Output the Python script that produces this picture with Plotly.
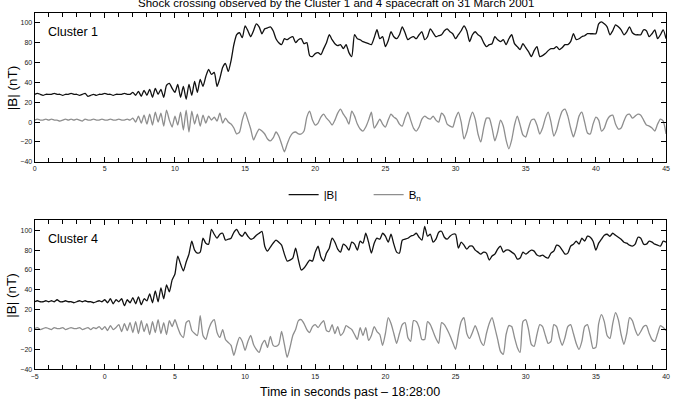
import numpy as np
import plotly.graph_objects as go

# ---------------- data (0.2 s sampling) ----------------
STEP = 0.2
TOP_START = 0.0      # Cluster 1 time axis starts at 0 s
BOT_START = -5.0     # Cluster 4 time axis starts at -5 s

c1_B = [
    28, 29, 28, 27, 28,  28, 28, 29, 28, 28,  27, 28, 28, 29, 28,  28, 27, 28, 29, 26,
    27, 28, 27, 28, 28,  29, 28, 28, 27, 28,  28, 28, 29, 28, 28,  30, 27, 31, 26, 32,
    27, 33, 25, 34, 28,  33, 25, 37, 39, 34,  30, 38, 25, 36, 23,  38, 27, 41, 30, 43,
    36, 46, 53, 48, 50,  36, 44, 55, 59, 51,  62, 78, 88, 90, 85,  97, 92, 86, 92, 99,
    96, 89, 94, 95, 96,  92, 84, 80, 78, 84,  83, 85, 86, 80, 83,  84, 79, 80, 67, 66,
    69, 70, 68, 74, 80,  88, 83, 79, 77, 78,  74, 78, 70, 66, 88,  84, 83, 81, 80, 79,
    78, 85, 93, 84, 86,  76, 82, 91, 86, 84,  88, 96, 90, 83, 85,  86, 84, 88, 91, 83,
    86, 94, 90, 86, 87,  88, 92, 94, 91, 89,  84, 88, 92, 97, 92,  81, 88, 91, 88, 86,
    80, 76, 78, 79, 86,  83, 81, 83, 78, 84,  88, 79, 76, 73, 79,  75, 71, 66, 72, 76,
    66, 67, 69, 72, 74,  74, 76, 73, 75, 78,  78, 81, 89, 83, 84,  86, 87, 89, 89, 89,
    89, 99, 101, 99, 96, 88, 92, 98, 96, 93,  88, 91, 96, 90, 88,  88, 88, 93, 92, 86,
    89, 93, 84, 88, 93,  84,
]

c1_Bn = [
    2, 3, 2, 2, 3,  2, 3, 2, 2, 1,  2, 3, 2, 3, 2,  3, 2, 1, 3, 2,
    2, 3, 2, 2, 3,  2, 2, 3, 2, 2,  3, 2, 2, 3, 2,  4, 0, 6, -1, 7,
    -2, 8, -3, 10, 0,  9, -4, 12, 2, -5,  6, -3, 10, -8, 12,  -10, 11, -2, 8, -4,
    7, -1, 6, 2, 5,  1, 9, -1, 4, 0,  -2, -6, -12, -10, 2,  10, 2, -7, -18, -12,
    -7, -9, -12, -17, -19,  -16, -10, -14, -22, -30,  -22, -15, -11, -10, -12,  -12, -9, 5, 11, 2,
    -3, -1, 5, 8, 4,  1, -3, 2, 9, 13,  8, 4, -2, 11, 6,  -2, -7, -9, -5, 2,
    10, -6, -2, 3, -2,  -5, 2, 8, 5, 3,  -2, -4, 4, 10, 2,  -6, -9, -5, 3, 6,
    4, 3, 6, 2, 0,  9, 6, -2, -4, -5,  4, 10, 0, -17, -10,  2, 10, 3, -12, -20,
    -6, 4, 4, -6, -19,  -10, 2, -4, -18, -27,  -18, -3, 6, -3, -13,  -15, -6, 2, 3, -3,
    -12, -6, 4, 10, 0,  -14, -8, 3, 11, 13,  6, -6, -15, -6, 6,  10, 0, -11, -12, -2,
    5, 2, -9, -6, 2,  6, 7, -2, -7, -6,  1, 7, 8, 4, 6,  8, 7, 2, -3, -4,
    -6, -9, -2, 3, 1,  -12,
]

c4_B = [
    28, 29, 28, 28, 29,  28, 29, 28, 30, 28,  28, 29, 28, 28, 27,  28, 29, 28, 29, 28,
    28, 27, 28, 29, 28,  30, 27, 31, 26, 30,  28, 31, 24, 30, 27,  32, 26, 33, 25, 31,
    29, 36, 27, 39, 28,  42, 31, 45, 38, 50,  56, 74, 66, 59, 68,  76, 89, 80, 77, 78,
    92, 87, 86, 101, 96,  92, 96, 97, 90, 91,  92, 98, 101, 96, 94,  98, 94, 91, 92, 95,
    97, 99, 84, 79, 83,  87, 90, 88, 85, 76,  69, 70, 72, 82, 70,  60, 62, 66, 70, 69,
    78, 84, 73, 69, 77,  82, 92, 88, 81, 78,  86, 84, 80, 88, 86,  80, 89, 87, 97, 88,
    77, 87, 92, 91, 97,  94, 88, 96, 86, 78,  77, 90, 91, 92, 94,  95, 97, 93, 90, 104,
    94, 96, 88, 91, 98,  99, 93, 91, 94, 96,  96, 82, 88, 85, 81,  84, 84, 80, 78, 76,
    78, 77, 70, 74, 76,  81, 84, 78, 80, 80,  78, 76, 71, 72, 78,  76, 78, 80, 79, 75,
    74, 75, 73, 72, 77,  79, 85, 84, 80, 76,  77, 84, 86, 89, 86,  92, 89, 94, 93, 89,
    80, 87, 91, 95, 96,  94, 97, 95, 93, 91,  88, 87, 85, 84, 86,  93, 92, 86, 86, 89,
    88, 86, 85, 84, 89,  88,
]

c4_Bn = [
    1, 2, 0, 1, 2,  1, 0, 2, 1, 1,  2, 0, 1, 2, 1,  1, 2, 0, 1, 2,
    0, 2, 1, 3, 0,  3, -1, 4, 0, 2,  5, -2, 6, -1, 7,  -3, 8, -4, 9, -2,
    6, -5, 8, -3, 10,  -4, 7, -5, 9, 3,  10, 2, -5, -8, 7,  9, -1, -4, -6, 14,
    -6, -10, 0, 7, 10,  -3, -8, 0, -10, -13,  -16, -26, -16, -8, -12,  -21, -12, -6, -15, -20,
    -23, -15, -11, -18, -7,  -16, -17, -15, -2, -15,  -28, -18, -6, 0, 9,  10, 6, 0, -3, 3,
    5, 2, 6, 9, -1,  -2, 5, -4, 3, -6,  -3, 4, 2, 0, -5,  -10, 2, -6, 2, -11,
    -6, 3, -2, -5, -16,  -4, 12, 6, -4, -14,  -4, 5, 7, -8, -12,  9, 8, 2, -10, -10,
    8, 5, -2, -9, -14,  7, 5, 0, -6, -13,  -20, -5, 8, 12, -4,  -9, -3, 4, -3, -12,
    -16, -4, 6, 12, 2,  -10, -22, -25, -5, 4,  3, -8, -18, -23, 8,  10, 0, -15, -17, -5,
    5, 3, -6, -14, -12,  5, 3, -8, -16, -8,  3, 5, -4, -14, -20,  -12, 3, 5, -6, -19,
    -18, 6, 15, 8, -6,  -9, 6, 17, 10, -5,  -15, -4, 12, 9, 0,  -6, -2, 3, 4, -4,
    -10, -12, -4, 4, 2,  -1,
]

X_TICKS_TOP = [0, 5, 10, 15, 20, 25, 30, 35, 40, 45]
X_TICKS_BOT = [-5, 0, 5, 10, 15, 20, 25, 30, 35, 40]
Y_TICKS = [-40, -20, 0, 20, 40, 60, 80, 100]

TITLE = "Shock crossing observed by the Cluster 1 and 4 spacecraft on 31 March 2001"
XTITLE = "Time in seconds past \u2013 18:28:00"
YTITLE = "|B| (nT)"

# ---------------- figure ----------------
W, H = 673, 404
FONT = "Liberation Sans, Arial, Helvetica, sans-serif"
BLACK = "#111111"
GREY = "#8e8e8e"


def px(x):
    return x / W


def py(y):
    return 1 - y / H


t1 = TOP_START + STEP * np.arange(len(c1_B))
t4 = BOT_START + STEP * np.arange(len(c4_B))

line_kw = dict(shape="spline", smoothing=0.6)

fig = go.Figure()
fig.add_trace(go.Scatter(x=t1, y=c1_B, mode="lines", name="|B|",
                         line=dict(color=BLACK, width=1.3, **line_kw),
                         xaxis="x", yaxis="y", legendrank=1))
fig.add_trace(go.Scatter(x=t1, y=c1_Bn, mode="lines", name="B<sub>n</sub>",
                         line=dict(color=GREY, width=1.3, **line_kw),
                         xaxis="x", yaxis="y", legendrank=2))
fig.add_trace(go.Scatter(x=t4, y=c4_B, mode="lines", name="|B|", showlegend=False,
                         line=dict(color=BLACK, width=1.3, **line_kw),
                         xaxis="x2", yaxis="y2"))
fig.add_trace(go.Scatter(x=t4, y=c4_Bn, mode="lines", name="B<sub>n</sub>", showlegend=False,
                         line=dict(color=GREY, width=1.3, **line_kw),
                         xaxis="x2", yaxis="y2"))

axis_common = dict(
    showline=True, linecolor="black", linewidth=1, mirror="ticks",
    ticks="inside", ticklen=5, tickwidth=1, tickcolor="black",
    tickfont=dict(size=7, color="#222222", family=FONT),
    ticklabeloverflow="allow",
    showgrid=False, zeroline=False,
)
minor_x = dict(dtick=1, ticks="inside", ticklen=4, tickwidth=1, tickcolor="black", showgrid=False)

xdom = [px(31), px(670)]
fig.update_layout(
    width=W, height=H,
    margin=dict(l=0, r=0, t=0, b=0),
    paper_bgcolor="white", plot_bgcolor="white",
    font=dict(family=FONT, color="black"),
    showlegend=True,
    legend=dict(orientation="h", x=px(283), xanchor="left", y=py(196), yanchor="middle",
                font=dict(size=11.5, family=FONT, color="black"), bgcolor="rgba(0,0,0,0)",
                itemwidth=30, entrywidth=40, entrywidthmode="pixels"),
    xaxis=dict(domain=xdom, anchor="y", range=[X_TICKS_TOP[0], X_TICKS_TOP[-1]],
               tickvals=X_TICKS_TOP, minor=minor_x, **axis_common),
    yaxis=dict(domain=[py(163), py(13)], anchor="x", range=[-40, 110],
               tickvals=Y_TICKS, **axis_common),
    xaxis2=dict(domain=xdom, anchor="y2", range=[X_TICKS_BOT[0], X_TICKS_BOT[-1]],
                tickvals=X_TICKS_BOT, minor=minor_x, **axis_common),
    yaxis2=dict(domain=[py(372), py(222)], anchor="x2", range=[-40, 110],
                tickvals=Y_TICKS, **axis_common),
)

ann = []
ann.append(dict(text=TITLE, x=px(336), y=py(3), xref="paper", yref="paper",
                xanchor="center", yanchor="middle", showarrow=False,
                font=dict(size=11.5, family=FONT, color="black")))
for yc in (88, 297):
    ann.append(dict(text=YTITLE, x=px(8), y=py(yc), xref="paper", yref="paper",
                    xanchor="center", yanchor="middle", textangle=-90, showarrow=False,
                    font=dict(size=13.5, family=FONT, color="black")))
ann.append(dict(text="Cluster 1", x=px(42), y=py(32), xref="paper", yref="paper",
                xanchor="left", yanchor="middle", showarrow=False,
                font=dict(size=12.5, family=FONT, color="black")))
ann.append(dict(text="Cluster 4", x=px(42), y=py(241), xref="paper", yref="paper",
                xanchor="left", yanchor="middle", showarrow=False,
                font=dict(size=12.5, family=FONT, color="black")))
ann.append(dict(text=XTITLE, x=px(350), y=py(395), xref="paper", yref="paper",
                xanchor="center", yanchor="middle", showarrow=False,
                font=dict(size=12.5, family=FONT, color="black")))
fig.update_layout(annotations=ann)

fig.write_html("out.html")
